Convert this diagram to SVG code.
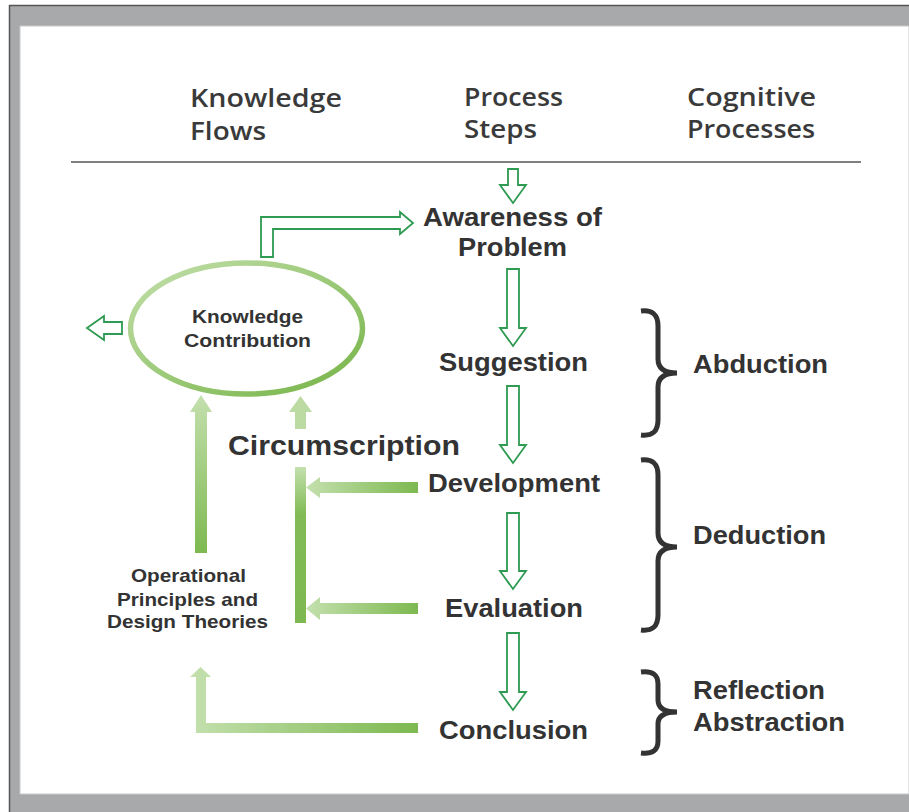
<svg xmlns="http://www.w3.org/2000/svg" width="909" height="812" viewBox="0 0 909 812">
<style>
.hdr{font-family:"Open Sans","Noto Sans","Liberation Sans",sans-serif;font-weight:600;font-size:25px;fill:#3a3a3a}
.step{font-family:"Liberation Sans",Arial,sans-serif;font-weight:bold;font-size:25px;fill:#333}
.big{font-family:"Liberation Sans",Arial,sans-serif;font-weight:bold;font-size:27px;fill:#333}
.small{font-family:"Liberation Sans",Arial,sans-serif;font-weight:bold;font-size:19px;fill:#333}
.open{fill:#fff;stroke:#2e9a52;stroke-width:1.8;stroke-linejoin:miter}
.brace{fill:none;stroke:#333;stroke-width:5;stroke-linecap:butt}
</style>
<defs>
<linearGradient id="gUp" x1="0" y1="1" x2="0" y2="0">
<stop offset="0" stop-color="#7db950"/><stop offset="1" stop-color="#c4e0ae"/>
</linearGradient>
<linearGradient id="gDown" x1="0" y1="0" x2="0" y2="1">
<stop offset="0" stop-color="#c4e0ae"/><stop offset="0.3" stop-color="#82bb56"/><stop offset="1" stop-color="#7db950"/>
</linearGradient>
<linearGradient id="gRight" x1="0" y1="0" x2="1" y2="0">
<stop offset="0" stop-color="#c4e0ae"/><stop offset="1" stop-color="#7db950"/>
</linearGradient>
<linearGradient id="gEll" x1="0" y1="0" x2="1" y2="1">
<stop offset="0" stop-color="#c2dfaa"/><stop offset="1" stop-color="#76b447"/>
</linearGradient>
</defs>

<g id="frame">
<rect x="9" y="5" width="900" height="807" fill="#a8a9ab"/>
<line x1="9" y1="5.5" x2="909" y2="5.5" stroke="#555" stroke-width="1.5"/>
<line x1="9.5" y1="5" x2="9.5" y2="812" stroke="#555" stroke-width="1.5"/>
<rect x="20" y="26" width="889" height="768" fill="#fff" stroke="#c8c9ca" stroke-width="1"/>
</g>

<g id="headers">
<text class="hdr" x="190" y="107" textLength="152" lengthAdjust="spacingAndGlyphs">Knowledge</text>
<text class="hdr" x="190" y="140" textLength="76" lengthAdjust="spacingAndGlyphs">Flows</text>
<text class="hdr" x="464" y="106" textLength="99" lengthAdjust="spacingAndGlyphs">Process</text>
<text class="hdr" x="464" y="138" textLength="73" lengthAdjust="spacingAndGlyphs">Steps</text>
<text class="hdr" x="687" y="106" textLength="129" lengthAdjust="spacingAndGlyphs">Cognitive</text>
<text class="hdr" x="687" y="138" textLength="128" lengthAdjust="spacingAndGlyphs">Processes</text>
<line x1="71" y1="162" x2="861" y2="162" stroke="#555" stroke-width="1.5"/>
</g>

<g id="connectors">
<path class="open" d="M508,169 H518 V185 H526 L513,203 L500,185 H508 Z"/>
<path class="open" d="M507,269 H519 V328 H526 L513,346 L500,328 H507 Z"/>
<path class="open" d="M507,386 H519 V445 H526 L513,463 L500,445 H507 Z"/>
<path class="open" d="M507,513 H519 V571 H526 L513,589 L500,571 H507 Z"/>
<path class="open" d="M507,633 H519 V692 H526 L513,710 L500,692 H507 Z"/>
<path class="open" d="M261,257 V217 H400 V212 L413,223 L400,234 V229 H273 V257 Z"/>
<path class="open" d="M122,322 V334 H104 V340 L87,328 L104,316 V322 Z"/>
<path d="M195,553 V412 H190 L201,395 L212,412 H207 V553 Z" fill="url(#gUp)"/>
<path d="M295,429 V412 H289 L300.5,396 L312,412 H306 V429 Z" fill="#bcdba3"/>
<rect x="295" y="467" width="11" height="156" fill="url(#gDown)"/>
<path d="M418,482 V493 H320 V498 L306,487.5 L320,477 V482 Z" fill="url(#gRight)"/>
<path d="M418,603 V614 H320 V620 L306,608.5 L320,597 V603 Z" fill="url(#gRight)"/>
<path d="M418,723 V733 H196 V677 H190 L200.5,667 L211,677 H206 V723 Z" fill="url(#gRight)"/>
</g>

<g id="knowledge-contribution">
<ellipse cx="246.5" cy="328.5" rx="116" ry="65.5" fill="#fff" stroke="url(#gEll)" stroke-width="5.5"/>
<text class="small" x="192" y="323" textLength="111" lengthAdjust="spacingAndGlyphs">Knowledge</text>
<text class="small" x="184" y="347" textLength="127" lengthAdjust="spacingAndGlyphs">Contribution</text>
</g>

<g id="operational-principles">
<text class="small" x="131" y="582" textLength="115" lengthAdjust="spacingAndGlyphs">Operational</text>
<text class="small" x="117" y="606" textLength="141" lengthAdjust="spacingAndGlyphs">Principles and</text>
<text class="small" x="107" y="628" textLength="161" lengthAdjust="spacingAndGlyphs">Design Theories</text>
</g>

<g id="circumscription">
<text class="big" x="228" y="455" textLength="232" lengthAdjust="spacingAndGlyphs">Circumscription</text>
</g>

<g id="awareness">
<text class="step" x="423" y="226" textLength="179" lengthAdjust="spacingAndGlyphs">Awareness of</text>
<text class="step" x="458" y="256" textLength="109" lengthAdjust="spacingAndGlyphs">Problem</text>
</g>
<g id="suggestion"><text class="step" x="439" y="371" textLength="149" lengthAdjust="spacingAndGlyphs">Suggestion</text></g>
<g id="development"><text class="step" x="428" y="492" textLength="172" lengthAdjust="spacingAndGlyphs">Development</text></g>
<g id="evaluation"><text class="step" x="445" y="617" textLength="138" lengthAdjust="spacingAndGlyphs">Evaluation</text></g>
<g id="conclusion"><text class="step" x="439" y="739" textLength="149" lengthAdjust="spacingAndGlyphs">Conclusion</text></g>

<g id="abduction">
<path class="brace" d="M641,311 Q658,309 658,326 V359 Q658,373 677,373 Q658,373 658,387 V420 Q658,437 641,435"/>
<text class="step" x="693" y="373" textLength="135" lengthAdjust="spacingAndGlyphs">Abduction</text>
</g>
<g id="deduction">
<path class="brace" d="M641,460 Q658,458 658,475 V533 Q658,547 677,547 Q658,547 658,561 V615 Q658,632 641,630"/>
<text class="step" x="693" y="544" textLength="133" lengthAdjust="spacingAndGlyphs">Deduction</text>
</g>
<g id="reflection">
<path class="brace" d="M641,672 Q658,670 658,684 V700 Q658,712 677,712 Q658,712 658,724 V741 Q658,755 641,753"/>
<text class="step" x="693" y="699" textLength="132" lengthAdjust="spacingAndGlyphs">Reflection</text>
<text class="step" x="693" y="731" textLength="152" lengthAdjust="spacingAndGlyphs">Abstraction</text>
</g>
</svg>
